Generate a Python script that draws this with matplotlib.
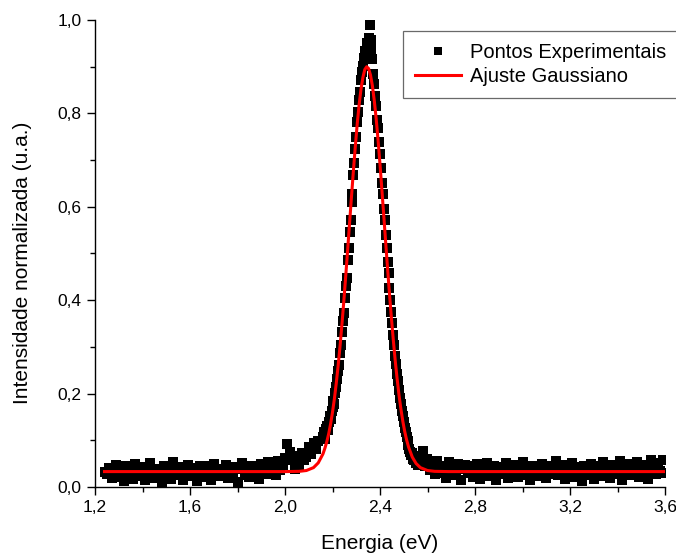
import numpy as np
import matplotlib
matplotlib.use("Agg")
import matplotlib.pyplot as plt
from matplotlib.ticker import MultipleLocator, FuncFormatter

plt.rcParams['font.family'] = ['Liberation Sans', 'DejaVu Sans']

energia_esq = np.linspace(1.24, 2.14, 91)
intens_esq = [
    0.033,
    0.028, 0.041, 0.019, 0.035, 0.047, 0.022, 0.031, 0.012, 0.044, 0.026,
    0.038, 0.017, 0.049, 0.030, 0.024, 0.042, 0.014, 0.036, 0.051, 0.027,
    0.020, 0.039, 0.033, 0.010, 0.045, 0.029, 0.037, 0.018, 0.054, 0.032,
    0.025, 0.043, 0.015, 0.034, 0.048, 0.023, 0.040, 0.028, 0.013, 0.046,
    0.031, 0.021, 0.044, 0.036, 0.016, 0.050, 0.027, 0.039, 0.024, 0.033,
    0.047, 0.019, 0.035, 0.029, 0.042, 0.011, 0.038, 0.052, 0.026, 0.034,
    0.022, 0.045, 0.031, 0.040, 0.018, 0.049, 0.036, 0.027, 0.053, 0.030,
    0.041, 0.025, 0.056, 0.037, 0.048, 0.062, 0.092, 0.075, 0.058, 0.039,
    0.066, 0.048, 0.072, 0.058, 0.064, 0.085, 0.070, 0.094, 0.081, 0.099,
]

energia_pico = np.linspace(2.16, 2.56, 101)
intens_pico = [
    0.108, 0.118, 0.102, 0.125, 0.131, 0.122, 0.140, 0.152, 0.146, 0.163,
    0.171, 0.184, 0.178, 0.201, 0.214, 0.232, 0.249, 0.262, 0.288, 0.305,
    0.331, 0.356, 0.372, 0.405, 0.431, 0.448, 0.487, 0.512, 0.546, 0.571,
    0.610, 0.628, 0.669, 0.693, 0.724, 0.749, 0.781, 0.802, 0.829, 0.846,
    0.871, 0.889, 0.902, 0.918, 0.934, 0.927, 0.951, 0.944, 0.962, 0.990,
    0.958, 0.936, 0.917, 0.885, 0.862, 0.838, 0.815, 0.786, 0.768, 0.739,
    0.712, 0.683, 0.652, 0.628, 0.596, 0.571, 0.539, 0.512, 0.481, 0.458,
    0.426, 0.401, 0.374, 0.352, 0.326, 0.305, 0.281, 0.263, 0.241, 0.226,
    0.207, 0.191, 0.178, 0.162, 0.151, 0.139, 0.126, 0.118, 0.107, 0.098,
    0.089, 0.082, 0.076, 0.068, 0.072, 0.061, 0.058, 0.066, 0.052, 0.055,
    0.047,
]

energia_dir = np.linspace(2.57, 3.60, 104)
intens_dir = [
    0.052, 0.078, 0.044, 0.061, 0.036, 0.049, 0.027, 0.055, 0.040, 0.031,
    0.046, 0.019, 0.053, 0.034, 0.042, 0.025, 0.050, 0.015, 0.038, 0.047,
    0.029, 0.044, 0.021, 0.036, 0.049, 0.018, 0.041, 0.032, 0.052, 0.024,
    0.037, 0.046, 0.016, 0.033, 0.043, 0.027, 0.051, 0.020, 0.039, 0.030,
    0.048, 0.022, 0.035, 0.054, 0.026, 0.041, 0.014, 0.045, 0.031, 0.037,
    0.023, 0.050, 0.034, 0.019, 0.044, 0.028, 0.039, 0.056, 0.025, 0.036,
    0.047, 0.017, 0.040, 0.030, 0.052, 0.021, 0.043, 0.033, 0.012, 0.046,
    0.035, 0.026, 0.049, 0.018, 0.038, 0.045, 0.024, 0.053, 0.031, 0.041,
    0.020, 0.047, 0.036, 0.028, 0.055, 0.015, 0.042, 0.033, 0.050, 0.025,
    0.039, 0.054, 0.022, 0.044, 0.031, 0.048, 0.017, 0.058, 0.036, 0.027,
    0.051, 0.034, 0.057, 0.029,
]

# gaussian fit curve
ajuste_x = [1.24, 2.00, 2.06, 2.09, 2.12, 2.14,
            2.160, 2.168, 2.176, 2.184, 2.192, 2.200, 2.208, 2.216, 2.224, 2.232,
            2.240, 2.248, 2.256, 2.264, 2.272, 2.280, 2.288, 2.296, 2.304, 2.312,
            2.320, 2.328, 2.336, 2.344, 2.352, 2.360, 2.368, 2.376, 2.384, 2.392,
            2.400, 2.408, 2.416, 2.424, 2.432, 2.440, 2.448, 2.456, 2.464, 2.472,
            2.480, 2.488, 2.496, 2.504, 2.512, 2.520,
            2.536, 2.552, 2.57, 2.60, 2.63, 2.69, 3.60]
ajuste_y = [0.033, 0.033, 0.0335, 0.0353, 0.0415, 0.0517,
            0.071, 0.083, 0.097, 0.114, 0.135, 0.160, 0.189, 0.223, 0.261, 0.303,
            0.350, 0.400, 0.454, 0.509, 0.566, 0.622, 0.677, 0.729, 0.777, 0.818,
            0.852, 0.877, 0.894, 0.900, 0.896, 0.882, 0.859, 0.827, 0.788, 0.742,
            0.691, 0.636, 0.580, 0.523, 0.467, 0.413, 0.362, 0.315, 0.271, 0.232,
            0.197, 0.167, 0.141, 0.119, 0.101, 0.086,
            0.064, 0.0503, 0.0415, 0.0353, 0.0335, 0.033, 0.033]

energia = np.concatenate([energia_esq, energia_pico, energia_dir])
intensidade = np.concatenate([intens_esq, intens_pico, intens_dir])

fig = plt.figure(figsize=(6.76, 5.58), dpi=100)
ax = fig.add_axes([95/676, 1-487/558, 570/676, 467/558])

ax.plot(energia, intensidade, 's', color='black', markersize=7.5,
        markeredgewidth=0, label='Pontos Experimentais')
ax.plot(ajuste_x, ajuste_y, '-', color='red', linewidth=2.2,
        label='Ajuste Gaussiano')

ax.set_xlim(1.2, 3.6)
ax.set_ylim(0.0, 1.0)
ax.xaxis.set_major_locator(MultipleLocator(0.4))
ax.xaxis.set_minor_locator(MultipleLocator(0.2))
ax.yaxis.set_major_locator(MultipleLocator(0.2))
ax.yaxis.set_minor_locator(MultipleLocator(0.1))
virgula = FuncFormatter(lambda v, p: f"{v:.1f}".replace('.', ','))
ax.xaxis.set_major_formatter(virgula)
ax.yaxis.set_major_formatter(virgula)

ax.spines['top'].set_visible(False)
ax.spines['right'].set_visible(False)
for s in ('left', 'bottom'):
    ax.spines[s].set_linewidth(1.0)
ax.tick_params(which='major', direction='out', length=5.5, width=1.0,
               labelsize=12.5)
ax.tick_params(axis='y', which='major', pad=4)
ax.tick_params(axis='x', which='major', pad=4)
ax.tick_params(which='minor', direction='out', length=3.5, width=1.0)

ax.set_xlabel('Energia (eV)', fontsize=15)
ax.set_ylabel('Intensidade normalizada (u.a.)', fontsize=15)
ax.xaxis.set_label_coords(0.5, -0.1)
ax.yaxis.set_label_coords(-0.11, 0.479)

leg = ax.legend(loc='upper left', bbox_to_anchor=(403/676, 1-31/558),
                bbox_transform=fig.transFigure, fontsize=14.5, numpoints=1,
                frameon=True, fancybox=False, handlelength=2.3,
                handletextpad=0.45, borderpad=0.6, labelspacing=0.25,
                borderaxespad=0, markerscale=0.8)
leg.get_frame().set_edgecolor('#444444')
leg.get_frame().set_linewidth(0.9)

plt.savefig('out.png', dpi=100)
